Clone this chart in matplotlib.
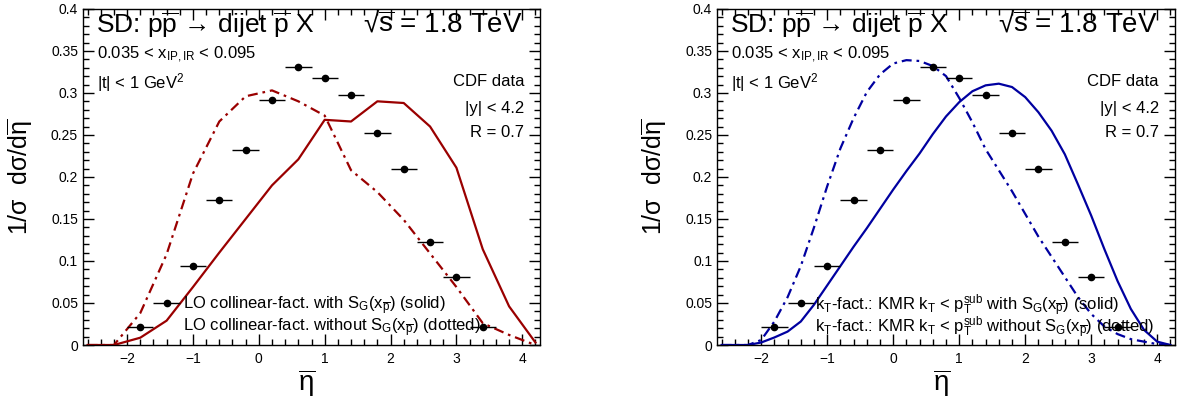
import matplotlib
matplotlib.use("Agg")
import matplotlib.pyplot as plt
from matplotlib.ticker import MultipleLocator, FuncFormatter

plt.rcParams['font.family'] = ['Liberation Sans', 'DejaVu Sans']
plt.rcParams['mathtext.fontset'] = 'custom'
plt.rcParams['mathtext.rm'] = 'Liberation Sans'
plt.rcParams['mathtext.it'] = 'Liberation Sans'
plt.rcParams['mathtext.sf'] = 'Liberation Sans'
plt.rcParams['mathtext.bf'] = 'Liberation Sans:bold'

# CDF data points (bin centres, half width 0.2)
eta_data = [-1.8, -1.4, -1.0, -0.6, -0.2, 0.2, 0.6, 1.0, 1.4, 1.8, 2.2, 2.6, 3.0, 3.4]
cdf_vals = [0.021, 0.050, 0.094, 0.172, 0.232, 0.291, 0.331, 0.318, 0.298, 0.252,
            0.209, 0.122, 0.081, 0.021]
eta_halfwidth = 0.2

# LO collinear factorisation (left panel)
eta_lo = [-2.6, -2.2, -1.8, -1.4, -1.0, -0.6, -0.2, 0.2, 0.6, 1.0, 1.4, 1.8,
          2.2, 2.6, 3.0, 3.4, 3.8, 4.2]
lo_with = [0.0, 0.0, 0.0087, 0.029, 0.069, 0.110, 0.150, 0.190, 0.221, 0.268,
           0.266, 0.290, 0.288, 0.260, 0.211, 0.114, 0.046, 0.003]
lo_without = [0.0, 0.0, 0.038, 0.108, 0.204, 0.266, 0.296, 0.303, 0.290, 0.273,
              0.208, 0.182, 0.149, 0.109, 0.069, 0.026, 0.012, 0.0]

# kT factorisation, KMR (right panel)
eta_kt = [-2.6, -2.4, -2.2, -2.0, -1.8, -1.6, -1.4, -1.2, -1.0, -0.8, -0.6, -0.4,
          -0.2, 0.0, 0.2, 0.4, 0.6, 0.8, 1.0, 1.2, 1.4, 1.6, 1.8, 2.0, 2.2, 2.4,
          2.6, 2.8, 3.0, 3.2, 3.4, 3.6, 3.8, 4.0, 4.2]
kt_with = [0.0, 0.0, 0.0, 0.003, 0.009, 0.016, 0.028, 0.048, 0.071, 0.094, 0.117,
           0.139, 0.162, 0.185, 0.207, 0.228, 0.251, 0.272, 0.289, 0.302, 0.309,
           0.311, 0.307, 0.295, 0.277, 0.255, 0.227, 0.191, 0.154, 0.114, 0.076,
           0.043, 0.018, 0.004, 0.0]
kt_without = [0.0, 0.0, 0.0, 0.006, 0.028, 0.057, 0.094, 0.140, 0.189, 0.234, 0.270,
              0.301, 0.322, 0.335, 0.339, 0.338, 0.332, 0.320, 0.294, 0.265, 0.233,
              0.208, 0.183, 0.156, 0.129, 0.105, 0.081, 0.057, 0.037, 0.022, 0.013,
              0.007, 0.004, 0.001, 0.0]

red = '#9a0000'
blue = '#0000a0'
dashdot = (0, (4.5, 2.2, 1.2, 2.2))

fig = plt.figure(figsize=(11.82, 4.04), dpi=100)
ax1 = fig.add_axes([0.0702, 0.146, 0.3867, 0.832])
ax2 = fig.add_axes([0.6066, 0.146, 0.3875, 0.832])


def style_axis(ax):
    ax.set_xlim(-2.67, 4.27)
    ax.set_ylim(0, 0.4)
    ax.xaxis.set_major_locator(MultipleLocator(1))
    ax.xaxis.set_minor_locator(MultipleLocator(0.2))
    ax.yaxis.set_major_locator(MultipleLocator(0.05))
    ax.yaxis.set_minor_locator(MultipleLocator(0.01))
    ax.yaxis.set_major_formatter(FuncFormatter(lambda v, p: '%g' % round(v, 3)))
    ax.tick_params(which='both', direction='in', top=True, right=True,
                   labelsize=10, width=1)
    ax.tick_params(which='major', length=8)
    ax.tick_params(which='minor', length=4)
    ax.tick_params(axis='x', pad=5)
    ax.tick_params(axis='y', pad=3.5)
    for s in ax.spines.values():
        s.set_linewidth(1)
    ax.set_xlabel(r'$\overline{\eta}$', fontsize=20, va='center')
    ax.xaxis.set_label_coords(0.49, -0.115)
    ax.set_ylabel(r'$1/\sigma\ \ d\sigma/d\overline{\eta}$', fontsize=18)
    ax.yaxis.set_label_coords(-0.105, 0.5)

    ax.text(0.028, 0.952, r'SD: p$\overline{\rm p}$ → dijet $\overline{\rm p}$ X',
            transform=ax.transAxes, fontsize=19, va='center', ha='left')
    ax.text(0.963, 0.952, r'√$\overline{\rm s}$ = 1.8 TeV', transform=ax.transAxes,
            fontsize=20, va='center', ha='right')
    ax.text(0.03, 0.863, r'0.035 < x$_{\rm IP,IR}$ < 0.095', transform=ax.transAxes,
            fontsize=12, va='center', ha='left')
    ax.text(0.03, 0.78, r'|t| < 1 GeV$^2$', transform=ax.transAxes,
            fontsize=12, va='center', ha='left')
    ax.text(0.965, 0.783, 'CDF data', transform=ax.transAxes, fontsize=12,
            va='center', ha='right')
    ax.text(0.965, 0.705, '|y| < 4.2', transform=ax.transAxes, fontsize=12,
            va='center', ha='right')
    ax.text(0.965, 0.631, 'R = 0.7', transform=ax.transAxes, fontsize=12,
            va='center', ha='right')

    ax.errorbar(eta_data, cdf_vals, xerr=eta_halfwidth, fmt='o', color='black',
                ms=4.5, elinewidth=1, capsize=0, zorder=5)


# left panel
ax1.plot(eta_lo, lo_with, color=red, lw=1.6)
ax1.plot(eta_lo, lo_without, color=red, lw=1.6, linestyle=dashdot)
style_axis(ax1)
ax1.text(0.218, 0.116, r'LO collinear-fact. with S$_{\rm G}$(x$_{\overline{\rm p}}$) (solid)',
         transform=ax1.transAxes, fontsize=12, va='center', ha='left')
ax1.text(0.218, 0.05, r'LO collinear-fact. without S$_{\rm G}$(x$_{\overline{\rm p}}$) (dotted)',
         transform=ax1.transAxes, fontsize=12, va='center', ha='left')

# right panel
ax2.plot(eta_kt, kt_with, color=blue, lw=1.6)
ax2.plot(eta_kt, kt_without, color=blue, lw=1.6, linestyle=dashdot)
style_axis(ax2)
ax2.text(0.214, 0.116,
         r'k$_{\rm T}$-fact.: KMR k$_{\rm T}$ < p$_{\rm T}^{\rm sub}$ with S$_{\rm G}$(x$_{\overline{\rm p}}$) (solid)',
         transform=ax2.transAxes, fontsize=12, va='center', ha='left')
ax2.text(0.214, 0.05,
         r'k$_{\rm T}$-fact.: KMR k$_{\rm T}$ < p$_{\rm T}^{\rm sub}$ without S$_{\rm G}$(x$_{\overline{\rm p}}$) (dotted)',
         transform=ax2.transAxes, fontsize=12, va='center', ha='left')

fig.savefig('out.png', dpi=100)
